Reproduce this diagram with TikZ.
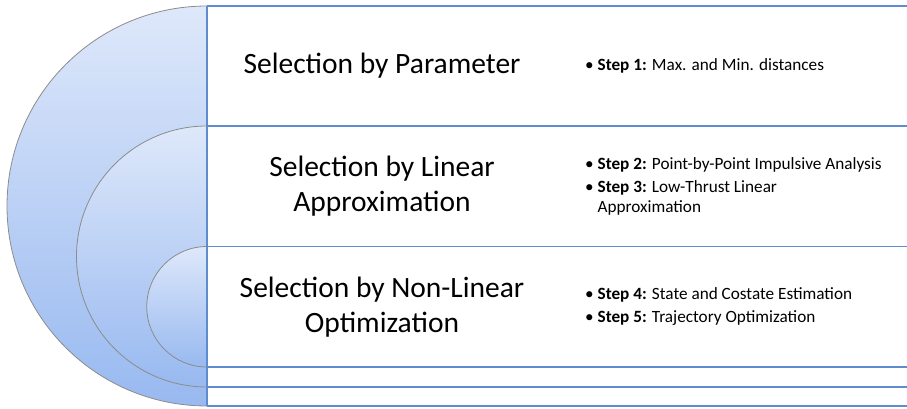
\documentclass[tikz,border=0pt]{standalone}
\usepackage{fontspec}
\setmainfont{Carlito}
\usepackage{xcolor}

\definecolor{lineablue}{RGB}{95,140,205}
\definecolor{ringtop}{RGB}{222,232,250}
\definecolor{ringbottom}{RGB}{152,185,240}
\definecolor{ringedge}{RGB}{140,140,140}

\newcommand{\stepitem}[2]{\textbullet\ \textbf{Step #1:} #2}

\begin{document}
\begin{tikzpicture}[x=1pt, y=1pt]
  \tikzstyle{ring}=[draw=ringedge, line width=0.8pt, top color=ringtop, bottom color=ringbottom]
  \tikzstyle{fila}=[draw=lineablue, line width=1.2pt]
  \tikzstyle{title}=[font=\fontsize{29.5}{35}\selectfont, align=center]
  \tikzstyle{steps}=[font=\fontsize{17.2}{20}\selectfont, align=left, anchor=west, inner sep=0pt]

  \useasboundingbox (0,0) rectangle (907,408);

  % Semicirculos
  \draw[ring] (207,402) arc[start angle=90, end angle=270, radius=200] -- cycle;
  \draw[ring] (207,282) arc[start angle=90, end angle=270, radius=130.5] -- cycle;
  \draw[ring] (207,161.5) arc[start angle=90, end angle=270, radius=60.25] -- cycle;

  % Filas
  \foreach \y in {402,282,161.5,41,21,2}
    \draw[fila] (207,\y) -- (907,\y);
  \draw[fila] (207,402) -- (207,2);

  % Titulos
  \node[title] (param) at (382,342) {Selection by Parameter};
  \node[title] (linear) at (382,221.75) {Selection by Linear\\Approximation};
  \node[title] (nonlin) at (382,101.25) {Selection by Non-Linear\\Optimization};

  % Pasos
  \node[steps] (paso1) at (585,342) {\stepitem{1}{Max. and Min. distances}};
  \node[steps] (paso23) at (585,221.75) {\stepitem{2}{Point-by-Point Impulsive Analysis}\\[3pt]
    \stepitem{3}{Low-Thrust Linear}\\ \phantom{\textbullet\ }Approximation};
  \node[steps] (paso45) at (585,101.25) {\stepitem{4}{State and Costate Estimation}\\[3pt]
    \stepitem{5}{Trajectory Optimization}};
\end{tikzpicture}
\end{document}
